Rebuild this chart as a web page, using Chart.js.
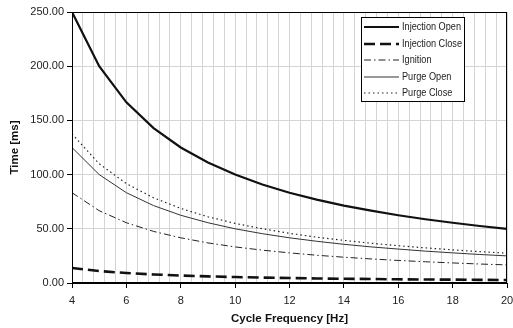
<!DOCTYPE html>
<html><head><meta charset="utf-8">
<script src="https://cdn.jsdelivr.net/npm/chart.js@4/dist/chart.umd.min.js"></script>
<style>html,body{margin:0;padding:0;background:#fff}#wrap{width:513px;height:328px;position:relative}</style>
</head><body><div id="wrap"><canvas id="c" width="513" height="328"></canvas></div>
<script>
const frequencies = [4,5,6,7,8,9,10,11,12,13,14,15,16,17,18,19,20];
const injectionOpen = [250,200,166.7,142.9,125,111.1,100,90.9,83.3,76.9,71.4,66.7,62.5,58.8,55.6,52.6,50];
const injectionClose = [13.8,11,9.2,7.9,6.9,6.1,5.5,5,4.6,4.2,3.9,3.7,3.4,3.2,3.1,2.9,2.8];
const ignition = [83.3,66.7,55.6,47.6,41.7,37,33.3,30.3,27.8,25.6,23.8,22.2,20.8,19.6,18.5,17.5,16.7];
const purgeOpen = [125,100,83.3,71.4,62.5,55.6,50,45.5,41.7,38.5,35.7,33.3,31.3,29.4,27.8,26.3,25];
const purgeClose = [137.5,110,91.7,78.6,68.8,61.1,55,50,45.8,42.3,39.3,36.7,34.4,32.4,30.6,28.9,27.5];
const seriesNames = ['Injection Open','Injection Close','Ignition','Purge Open','Purge Close'];
const xTickLabels = ['4','6','8','10','12','14','16','18','20'];
const yTickLabels = ['0.00','50.00','100.00','150.00','200.00','250.00'];

function pts(arr){ return frequencies.map((f,i)=>({x:f,y:arr[i]})); }
const styles = [
  {borderColor:'#111', borderWidth:2.2, borderDash:[]},
  {borderColor:'#111', borderWidth:2.6, borderDash:[11,5]},
  {borderColor:'#222', borderWidth:1, borderDash:[7,3,1.5,3]},
  {borderColor:'#333', borderWidth:1, borderDash:[]},
  {borderColor:'#222', borderWidth:1.2, borderDash:[1.5,3]}
];
const seriesData = [injectionOpen, injectionClose, ignition, purgeOpen, purgeClose];
const datasets = seriesData.map((d,i)=>Object.assign({
  label: seriesNames[i], data: pts(d), pointRadius:0, tension:0, fill:false
}, styles[i]));

function isLabelled(v){ const r=Math.round(v); return Math.abs(v-r)<1e-6 && xTickLabels.includes(String(r)); }

const frame = {
  id:'frame',
  afterDatasetsDraw(chart){
    const {ctx, chartArea:a} = chart;
    ctx.save();
    ctx.strokeStyle='#000'; ctx.lineWidth=1;
    ctx.strokeRect(a.left+0.5, a.top+0.5, a.right-a.left-1, a.bottom-a.top);
    ctx.lineWidth=2;
    ctx.beginPath(); ctx.moveTo(a.left, a.bottom); ctx.lineTo(a.right, a.bottom); ctx.stroke();
    // legend
    const bx=361, by=17, bw=103, bh=84;
    ctx.fillStyle='#fff'; ctx.fillRect(bx,by,bw,bh);
    ctx.lineWidth=1; ctx.strokeStyle='#000'; ctx.strokeRect(bx+0.5,by+0.5,bw,bh);
    const rows=[27,44,60,77,93];
    ctx.font='11px "Liberation Sans Narrow", "Liberation Sans", Arial, sans-serif';
    ctx.textBaseline='middle';
    const sx = Math.min(1, 60/ctx.measureText(seriesNames[1]).width);
    chart.data.datasets.forEach((ds,i)=>{
      ctx.beginPath();
      ctx.strokeStyle=ds.borderColor; ctx.lineWidth=ds.borderWidth;
      ctx.setLineDash(ds.borderDash);
      ctx.moveTo(364, rows[i]); ctx.lineTo(399, rows[i]); ctx.stroke();
      ctx.setLineDash([]);
      ctx.fillStyle='#222';
      ctx.save();
      ctx.translate(402, rows[i]);
      ctx.scale(sx,1);
      ctx.fillText(ds.label, 0, 0);
      ctx.restore();
    });
    ctx.restore();
  }
};

new Chart(document.getElementById('c'), {
  type:'line',
  data:{datasets},
  plugins:[frame],
  options:{
    responsive:false, animation:false,
    layout:{padding:{left:8,right:6,top:12,bottom:2}},
    plugins:{legend:{display:false}, tooltip:{enabled:false}},
    scales:{
      x:{type:'linear', min:4, max:20,
        ticks:{stepSize:0.4, autoSkip:false, maxRotation:0, color:'#222', padding:6,
          font:{family:'"Liberation Sans", Arial', size:11},
          callback:(v)=> isLabelled(v) ? String(Math.round(v)) : ''},
        grid:{color:'#d4d4d4', lineWidth:1, tickLength:5,
          tickColor:(ctx)=> (ctx.tick && isLabelled(ctx.tick.value)) ? '#000' : 'rgba(0,0,0,0)'},
        border:{display:false},
        title:{display:true, text:'Cycle Frequency [Hz]', color:'#111',
          font:{family:'"Liberation Sans", Arial', size:11.5, weight:'bold'}, padding:{top:4,bottom:0}},
        afterFit:(s)=>{ s.height = 43; s.paddingRight = 0; s.paddingLeft = 0; }
      },
      y:{min:0, max:250,
        ticks:{stepSize:50, color:'#222', font:{family:'"Liberation Sans", Arial', size:11},
          callback:(v)=> yTickLabels[Math.round(v/50)] },
        grid:{color:'#d4d4d4', lineWidth:1, tickLength:5, tickColor:'#000'},
        border:{display:false},
        title:{display:true, text:'Time [ms]', color:'#111',
          font:{family:'"Liberation Sans", Arial', size:11.5, weight:'bold'}, padding:{top:0,bottom:6}},
        afterFit:(s)=>{ s.width = 64; }
      }
    }
  }
});
</script></body></html>
